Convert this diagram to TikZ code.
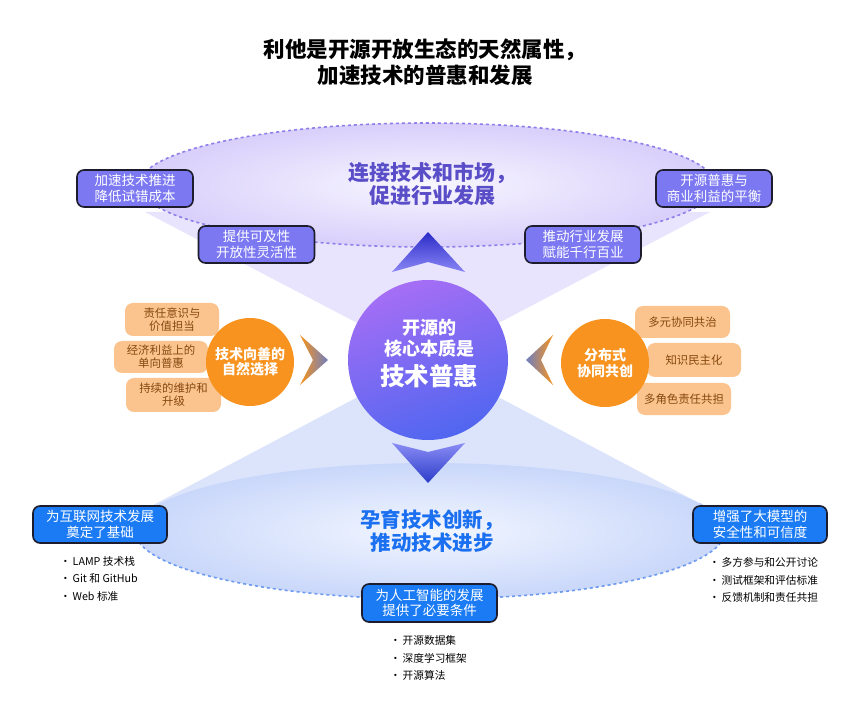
\documentclass[tikz,border=0pt]{standalone}
\usepackage{fontspec}
\setmainfont{Noto Sans CJK SC}
\definecolor{purpbox}{HTML}{7B78F2}
\definecolor{boxline}{HTML}{1C1C2C}
\definecolor{bluebox}{HTML}{1A7BF5}
\definecolor{toptitle}{HTML}{5A4DC8}
\definecolor{bottitle}{HTML}{1A70F0}
\definecolor{orange1}{HTML}{F7931E}
\definecolor{orlight}{HTML}{FBC48E}
\definecolor{ortext}{HTML}{85480F}
\definecolor{topfillout}{HTML}{D8CFFB}
\definecolor{topfillin}{HTML}{F8F6FF}
\definecolor{botfillout}{HTML}{C9D7FA}
\definecolor{botfillin}{HTML}{F2F6FF}
\definecolor{topcone}{HTML}{E9E4FD}
\definecolor{botcone}{HTML}{DCE4FC}
\definecolor{topdash}{HTML}{8F7FEA}
\definecolor{botdash}{HTML}{6E9BF0}
\definecolor{slate}{HTML}{6F7FC0}
\definecolor{arrdark}{HTML}{2B2CC8}
\definecolor{arrlight}{HTML}{8A86F5}
\definecolor{arrdarkb}{HTML}{2B3CC8}
\definecolor{arrlightb}{HTML}{8A8CF5}
\definecolor{circtop}{HTML}{A56EF5}
\definecolor{circbot}{HTML}{5066F0}
\begin{document}
\begin{tikzpicture}[x=1pt,y=-1pt,
  purplebx/.style={draw=boxline, line width=1.6pt, fill=purpbox, rounded corners=7pt, text=white, align=center,
    font=\fontsize{13.5}{15.5}\selectfont, minimum width=116pt, minimum height=37pt, inner sep=0pt},
  bluebx/.style={draw=boxline, line width=1.6pt, fill=bluebox, rounded corners=7pt, text=white, align=center,
    font=\fontsize{13.5}{15.5}\selectfont, minimum width=134pt, minimum height=37pt, inner sep=0pt},
  orangebx/.style={fill=orlight, rounded corners=8pt, text=ortext, align=center,
    font=\fontsize{11.4}{13}\selectfont, minimum width=94pt, minimum height=33pt, inner sep=0pt},
  orangecirc/.style={circle, fill=orange1, minimum size=88pt, text=white, align=center,
    font=\bfseries\fontsize{14}{15.5}\selectfont, inner sep=0pt},
  bulletitem/.style={anchor=west, font=\fontsize{10.7}{12}\selectfont, inner sep=0pt, text=black}
]
\useasboundingbox (0,0) rectangle (846,708);
\fill[white] (0,0) rectangle (846,708);

% cones
\fill[topcone] (145,212) -- (710,212) -- (428,360) -- cycle;
\fill[botcone] (428,360) -- (140,512) -- (716,512) -- cycle;

% top ellipse
\shade[inner color=topfillin, outer color=topfillout] (427,185) ellipse [x radius=288, y radius=62];
\draw[topdash, line width=1.6pt, dash pattern=on 3pt off 3pt] (427,185) ellipse [x radius=288, y radius=62];

% bottom ellipse
\shade[inner color=botfillin, outer color=botfillout] (430,531) ellipse [x radius=295, y radius=68];
\draw[botdash, line width=1.6pt, dash pattern=on 3pt off 3pt] (135,531) arc [start angle=180, end angle=0, x radius=295, y radius=68];
\draw[botdash!50, line width=1.3pt, dash pattern=on 3pt off 3pt] (725,531) arc [start angle=360, end angle=335, x radius=295, y radius=68];

% arrows
\shade[top color=arrdark, bottom color=arrlight] (428,232) -- (465,272) -- (428,262) -- (392,272) -- cycle;
\shade[top color=arrlightb, bottom color=arrdarkb] (392,443) -- (428,452) -- (465,443) -- (428,483) -- cycle;

% chevrons
\shade[left color=orange1, right color=slate] (300,335) -- (328,360) -- (300,385) -- (313,360) -- cycle;
\shade[left color=slate, right color=orange1] (553,335) -- (526,360) -- (553,385) -- (541,360) -- cycle;

% center circle
\shade[top color=circtop, bottom color=circbot, shading angle=20] (428,360) circle [radius=80];
\node[text=white, font=\bfseries\fontsize{18}{20}\selectfont, inner sep=0pt] (c1) at (429,328) {开源的};
\node[text=white, font=\bfseries\fontsize{18}{20}\selectfont, inner sep=0pt] (c2) at (429,349) {核心本质是};
\node[text=white, font=\bfseries\fontsize{24.5}{26}\selectfont, inner sep=0pt] (c3) at (429,376) {技术普惠};

% left orange group
\node[orangebx] (l1) at (172,319.5) {责任意识与\\价值担当};
\node[orangebx, minimum height=32pt] (l2) at (161,357) {经济利益上的\\单向普惠};
\node[orangebx, minimum width=95pt, minimum height=34pt] (l3) at (173.5,395) {持续的维护和\\升级};
\node[orangecirc] (lc) at (250,362) {技术向善的\\自然选择};

% right orange group
\node[orangebx, minimum width=95pt, minimum height=32pt] (r1) at (682.5,322) {多元协同共治};
\node[orangebx, minimum height=34pt] (r2) at (694,360) {知识民主化};
\node[orangebx, minimum height=32pt] (r3) at (684,399) {多角色责任共担};
\node[orangecirc] (rc) at (605,363) {分布式\\协同共创};

% purple boxes
\node[purplebx] (p1) at (135,188.5) {加速技术推进\\降低试错成本};
\node[purplebx] (p2) at (256.5,244.5) {提供可及性\\开放性灵活性};
\node[purplebx] (p3) at (714,188.5) {开源普惠与\\商业利益的平衡};
\node[purplebx] (p4) at (583,244.5) {推动行业发展\\赋能千行百业};

% blue boxes
\node[bluebx] (b1) at (100,524.5) {为互联网技术发展\\奠定了基础};
\node[bluebx, minimum width=135pt, minimum height=38pt] (b2) at (429.5,603) {为人工智能的发展\\提供了必要条件};
\node[bluebx] (b3) at (760,524.5) {增强了大模型的\\安全性和可信度};

% titles
\node[font=\bfseries\fontsize{21.5}{26}\selectfont, align=center, inner sep=0pt] (title) at (425,62) {利他是开源开放生态的天然属性，\\加速技术的普惠和发展};
\node[font=\bfseries\fontsize{21}{23}\selectfont, align=center, text=toptitle, inner sep=0pt] (toptitle) at (432,183.5) {连接技术和市场，\\促进行业发展};
\node[font=\bfseries\fontsize{20.5}{22.5}\selectfont, align=center, text=bottitle, inner sep=0pt] (bottitle) at (432,531) {孕育技术创新，\\推动技术进步};

% bullets
\node[bulletitem] (lb1) at (60,561) {·\,LAMP 技术栈};
\node[bulletitem] (lb2) at (60,578.5) {·\,Git 和 GitHub};
\node[bulletitem] (lb3) at (60,596) {·\,Web 标准};
\node[bulletitem] (mb1) at (390,640) {·\,开源数据集};
\node[bulletitem] (mb2) at (390,658) {·\,深度学习框架};
\node[bulletitem] (mb3) at (390,675) {·\,开源算法};
\node[bulletitem] (rb1) at (709,562) {·\,多方参与和公开讨论};
\node[bulletitem] (rb2) at (709,580) {·\,测试框架和评估标准};
\node[bulletitem] (rb3) at (709,597) {·\,反馈机制和责任共担};
\end{tikzpicture}
\end{document}
